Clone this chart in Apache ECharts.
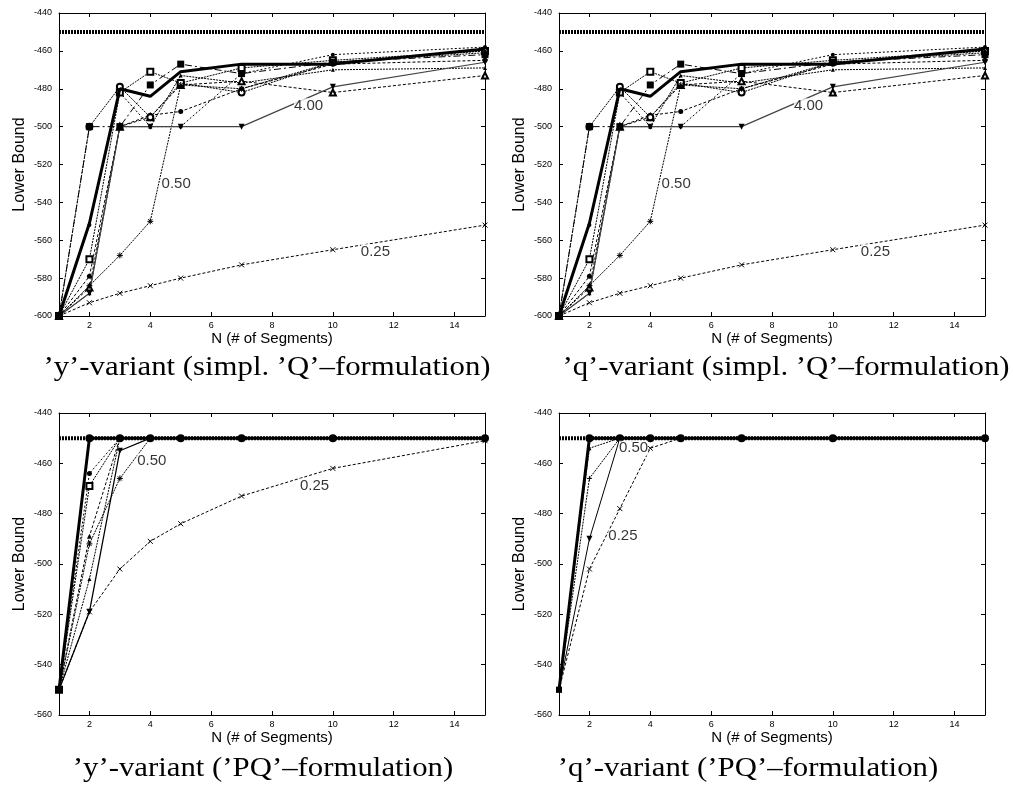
<!DOCTYPE html>
<html>
<head>
<meta charset="utf-8">
<script src="https://cdn.jsdelivr.net/npm/echarts@6/dist/echarts.min.js"></script>
<style>
  html, body { margin: 0; padding: 0; background: #fff; }
  #main { width: 1013px; height: 791px; }
</style>
</head>
<body>
<div id="main"></div>
<script>
// N (# of segments) sampled in every panel
var nSegments = [1, 2, 3, 4, 5, 7, 10, 15];
var evenTicks = [2, 4, 6, 8, 10, 12, 14];

// simplified 'Q' formulation (same curves for 'y' and 'q' variant)
var qOptimum  = [-450, -450, -450, -450, -450, -450, -450, -450];
var qBold     = [-600, -551, -480, -484, -471, -467, -467, -459];
var q400      = [-600, -588, -500, -500, -500, -500, -479, -466];
var q025      = [-600, -593, -588, -584, -580, -573, -565, -552];
var q050      = [-600, -584, -568, -550, -478, -480, -466, -460];
var qSquare   = [-600, -500, -500, -478, -467, -472, -466, -462];
var qBox      = [-600, -570, -482, -471, -477, -469, -465, -460];
var qRing     = [-600, -500, -479, -495, -477, -482, -466, -461];
var qDot      = [-600, -579, -500, -494, -492, -480, -467, -465];
var qTri      = [-600, -585, -500, -495, -478, -476, -482, -473];
var qSmallTri = [-600, -588, -500, -500, -473, -477, -470, -469];
var qOther    = [-600, -552, -482, -500, -500, -472, -462, -458];

// 'PQ' formulation, 'y' variant
var pqOptimum  = [-450, -450, -450, -450, -450, -450, -450, -450];
var pqBold     = [-550, -450, -450, -450, -450, -450, -450, -450];
var pyY025     = [-550, -519, -502, -491, -484, -473, -462, -451];
var pyY050     = [-550, -492, -466, -450, -450, -450, -450, -450];
var pyY400     = [-550, -519, -455, -450, -450, -450, -450, -450];
var pyYDot     = [-550, -464, -450, -450, -450, -450, -450, -450];
var pyYBox     = [-550, -469, -450, -450, -450, -450, -450, -450];
var pyYTri     = [-550, -489, -450, -450, -450, -450, -450, -450];
var pyYSmall   = [-550, -506, -450, -450, -450, -450, -450, -450];

// 'PQ' formulation, 'q' variant
var pqQDotted  = [-550, -454, -450, -450, -450, -450, -450, -450];
var pqQPlus    = [-550, -466, -450, -450, -450, -450, -450, -450];
var pqQ400     = [-550, -490, -450, -450, -450, -450, -450, -450];
var pqQ025     = [-550, -502, -478, -454, -450, -450, -450, -450];

// curve labels (weight parameter) per panel
var curveLabels = [
  ['0.50', '0.25', '4.00'],
  ['0.50', '0.25', '4.00'],
  ['0.50', '0.25'],
  ['0.50', '0.25']
];

var captions = [
  '\u2019y\u2019-variant (simpl. \u2019Q\u2019\u2013formulation)',
  '\u2019q\u2019-variant (simpl. \u2019Q\u2019\u2013formulation)',
  '\u2019y\u2019-variant (\u2019PQ\u2019\u2013formulation)',
  '\u2019q\u2019-variant (\u2019PQ\u2019\u2013formulation)'
];

// where the curve labels sit, in data units of each panel
var labelSpots = [
  [[4.85, -530], [11.4, -566], [9.2, -489]],
  [[4.85, -530], [11.4, -566], [9.2, -489]],
  [[4.05, -459], [9.4, -469]],
  [[3.45, -454], [3.1, -489]]
];

var crossPath = 'path://M0,0L10,10M10,0L0,10';
var starPath = 'path://M5,0L5,10M0,5L10,5M1.5,1.5L8.5,8.5M8.5,1.5L1.5,8.5';
var plusPath = 'path://M5,0L5,10M0,5L10,5';

var myChart = echarts.init(document.getElementById('main'));

var grids = [
  { left: 59, top: 13, width: 426, height: 303 },
  { left: 559, top: 13, width: 426, height: 303 },
  { left: 59, top: 413, width: 426, height: 302 },
  { left: 559, top: 413, width: 426, height: 302 }
];
var yRange = [[-600, -440], [-600, -440], [-560, -440], [-560, -440]];

var xAxes = [], yAxes = [];
grids.forEach(function (g, i) {
  xAxes.push({
    gridIndex: i, type: 'value', min: 1, max: 15, position: 'bottom',
    name: 'N (# of Segments)', nameLocation: 'middle', nameGap: 11,
    nameTextStyle: { fontFamily: 'Liberation Sans', fontSize: 15, color: '#000', verticalAlign: 'top' },
    axisLine: { lineStyle: { color: '#000', width: 1 } },
    axisTick: { inside: true, length: 4, customValues: evenTicks, lineStyle: { color: '#000' } },
    axisLabel: { customValues: evenTicks, fontFamily: 'Liberation Sans', fontSize: 9, color: '#000', margin: 5 },
    splitLine: { show: false }
  });
  xAxes.push({
    gridIndex: i, type: 'value', min: 1, max: 15, position: 'top',
    axisLine: { lineStyle: { color: '#000', width: 1 } },
    axisTick: { inside: true, length: 4, customValues: evenTicks, lineStyle: { color: '#000' } },
    axisLabel: { show: false },
    splitLine: { show: false }
  });
  yAxes.push({
    gridIndex: i, type: 'value', min: yRange[i][0], max: yRange[i][1], interval: 20, position: 'left',
    name: 'Lower Bound', nameLocation: 'middle', nameGap: 31, nameRotate: 90,
    nameTextStyle: { fontFamily: 'Liberation Sans', fontSize: 16, color: '#000' },
    axisLine: { show: true, lineStyle: { color: '#000', width: 1 } },
    axisTick: { show: true, inside: true, length: 4, lineStyle: { color: '#000' } },
    axisLabel: { fontFamily: 'Liberation Sans', fontSize: 9, color: '#000', margin: 7 },
    splitLine: { show: false }
  });
  yAxes.push({
    gridIndex: i, type: 'value', min: yRange[i][0], max: yRange[i][1], interval: 20, position: 'right',
    axisLine: { show: true, lineStyle: { color: '#000', width: 1 } },
    axisTick: { show: true, inside: true, length: 4, lineStyle: { color: '#000' } },
    axisLabel: { show: false },
    splitLine: { show: false }
  });
});

function line(panel, values, opt) {
  opt = opt || {};
  var s = {
    type: 'line',
    xAxisIndex: panel * 2,
    yAxisIndex: panel * 2,
    data: nSegments.map(function (n, i) {
      // points already sitting on the optimum are hidden under the bold markers
      if (opt.hideAt !== undefined && values[i] === opt.hideAt) {
        return { value: [n, values[i]], symbol: 'none' };
      }
      return [n, values[i]];
    }),
    symbol: opt.symbol || 'none',
    symbolSize: opt.size || 5,
    symbolRotate: opt.rotate || 0,
    showSymbol: opt.symbol ? true : false,
    z: opt.z || 2,
    lineStyle: { color: opt.color || '#000', width: opt.width || 1, type: opt.type || 'solid' },
    itemStyle: { color: '#000', borderColor: '#000', borderWidth: opt.border || 0 }
  };
  if (opt.first) {
    s.data[0] = { value: [nSegments[0], values[0]], symbol: opt.first, symbolSize: 6 };
  }
  return s;
}

var dots = [2, 1];
var dashDot = [7, 3, 2, 3];
var series = [];

// top panels (0 and 1) share the simplified-Q curves
[0, 1].forEach(function (p) {
  series.push(line(p, qOptimum, { width: 4, type: dots, z: 1 }));
  series.push(line(p, qOther, { type: [2, 2], symbol: 'circle', size: 4 }));
  series.push(line(p, qSmallTri, { type: dots, symbol: 'triangle', size: 4 }));
  series.push(line(p, qTri, { type: [3, 2], symbol: 'emptyTriangle', size: 6 }));
  series.push(line(p, qDot, { type: [3, 2], symbol: 'circle', size: 5 }));
  series.push(line(p, qRing, { type: dots, symbol: 'emptyCircle', size: 6 }));
  series.push(line(p, qBox, { type: dots, symbol: 'emptyRect', size: 6 }));
  series.push(line(p, qSquare, { type: dashDot, symbol: 'rect', size: 7 }));
  series.push(line(p, q050, { type: dots, symbol: starPath, size: 6, border: 1 }));
  series.push(line(p, q025, { type: [3, 2], symbol: crossPath, size: 5, border: 1 }));
  series.push(line(p, q400, { color: '#444', width: 1.2, symbol: 'triangle', rotate: 180, size: 6 }));
  series.push(line(p, qBold, { width: 3, z: 5, first: 'rect' }));
});

// bottom-left: 'y'-variant, PQ
series.push(line(2, pqOptimum, { width: 4, type: dots, z: 1 }));
series.push(line(2, pyYSmall, { type: dots, symbol: 'triangle', size: 4, hideAt: -450 }));
series.push(line(2, pyYTri, { type: [3, 2], symbol: 'triangle', size: 5, hideAt: -450 }));
series.push(line(2, pyYBox, { type: dots, symbol: 'emptyRect', size: 6, hideAt: -450 }));
series.push(line(2, pyYDot, { type: [2, 2], symbol: 'circle', size: 5, hideAt: -450 }));
series.push(line(2, pyY050, { type: dots, symbol: starPath, size: 6, border: 1, hideAt: -450 }));
series.push(line(2, pyY400, { width: 1.3, symbol: 'triangle', rotate: 180, size: 6, hideAt: -450 }));
series.push(line(2, pyY025, { type: [3, 2], symbol: crossPath, size: 5, border: 1 }));
series.push(line(2, pqBold, { width: 3, z: 5, symbol: 'circle', size: 8, first: 'rect' }));

// bottom-right: 'q'-variant, PQ
series.push(line(3, pqOptimum, { width: 4, type: dots, z: 1 }));
series.push(line(3, pqQDotted, { type: dots, symbol: 'triangle', size: 4, hideAt: -450 }));
series.push(line(3, pqQPlus, { type: dots, symbol: plusPath, size: 5, border: 1, hideAt: -450 }));
series.push(line(3, pqQ400, { symbol: 'triangle', rotate: 180, size: 6, hideAt: -450 }));
series.push(line(3, pqQ025, { type: [3, 2], symbol: crossPath, size: 5, border: 1, hideAt: -450 }));
series.push(line(3, pqBold, { width: 3, z: 5, symbol: 'circle', size: 8, first: 'rect' }));

// curve labels as a text-only scatter per panel
curveLabels.forEach(function (texts, p) {
  series.push({
    type: 'scatter',
    xAxisIndex: p * 2,
    yAxisIndex: p * 2,
    symbolSize: 1,
    silent: true,
    z: 10,
    itemStyle: { color: 'rgba(0,0,0,0)' },
    label: {
      show: true,
      position: 'inside',
      fontFamily: 'Liberation Sans',
      fontSize: 15,
      color: '#000',
      backgroundColor: '#fff',
      formatter: function (d) { return d.name; }
    },
    data: texts.map(function (t, k) { return { name: t, value: labelSpots[p][k] }; })
  });
});

var captionPos = [[267, 368], [786, 368], [263, 769], [748, 769]];
var graphics = captions.map(function (t, i) {
  return {
    type: 'text',
    x: captionPos[i][0],
    y: captionPos[i][1],
    scaleX: 1.14,
    style: {
      text: t,
      fill: '#000',
      font: '27px "Liberation Serif"',
      textAlign: 'center',
      textVerticalAlign: 'middle'
    }
  };
});

var option = {
  animation: false,
  backgroundColor: '#fff',
  grid: grids.map(function (g) {
    return { left: g.left, top: g.top, width: g.width, height: g.height, show: false, containLabel: false };
  }),
  xAxis: xAxes,
  yAxis: yAxes,
  series: series,
  graphic: graphics
};
myChart.setOption(option);
</script>
</body>
</html>
